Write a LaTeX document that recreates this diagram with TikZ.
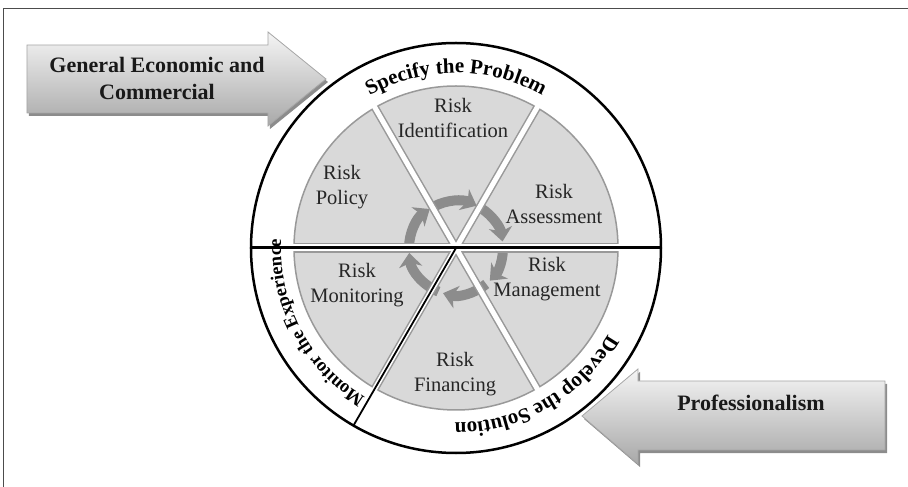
\documentclass[tikz,border=0pt]{standalone}
\usepackage{fontspec}
\setmainfont{Liberation Serif}
\usetikzlibrary{arrows.meta,decorations.text,calc}

\newcommand\slicefont{\fontsize{20.5}{25}\selectfont}
\newcommand\ringfont{\bfseries\fontsize{21}{25}\selectfont}
\newcommand\monfont{\bfseries\fontsize{18.5}{23}\selectfont}
\newcommand\sidefont{\bfseries\fontsize{22}{27}\selectfont}

\begin{document}
\begin{tikzpicture}[
     x=1pt,y=1pt,
     align=center,
     slice/.style={text=black!85,font=\slicefont},
     side/.style={text=black!90,font=\sidefont},
     ringtext/.style={decorate,decoration={text along path,text align=center,text={#1}}},
     bigarrow/.style={draw=black!35,line width=0.8pt,top color=black!4,bottom color=black!34},
     arrowshadow/.style={fill=black!45,draw=none},
     cycle/.style={draw=black!45,line width=10pt,-{Stealth[length=14pt,width=23pt,inset=4pt]}}]

    \useasboundingbox (-456,-239) rectangle (452,248);
    \draw[black!70,line width=0.8pt] (-453,-239) -- (-453,240) -- (452,240);

    % the six slices
    \filldraw[fill=black!15,draw=black!40,line width=1.5pt] (0,0) circle[radius=162pt];

    \foreach \s/\e in {180/124,118/64,58/8,2/-44,-50/-106,-112/-174}
      \draw[cycle] (\s:47) arc[start angle=\s,end angle=\e,radius=47pt];

    \foreach \a in {60,120}
      \draw[black!40,line width=8pt] (\a:162) -- (\a+180:162);
    \draw[black!40,line width=10pt] (0:162) -- (180:162);
    \foreach \a in {60,120}
      \draw[white,line width=5pt] (\a:164) -- (\a+180:164);
    \draw[white,line width=7pt] (0:164) -- (180:164);

    \draw[line width=3pt] (180:205) -- (0:205);
    \draw[line width=1.8pt] (0,0) -- (240:205);
    \draw[line width=2.5pt] (0,0) circle[radius=205pt];

    \node[slice] (ident) at (-3,130) {Risk\\Identification};
    \node[slice] (policy) at (-114,61) {Risk\\Policy};
    \node[slice] (assess) at (98,44) {Risk\\Assessment};
    \node[slice] (manage) at (91,-31) {Risk\\Management};
    \node[slice] (monitor) at (-99,-37) {Risk\\Monitoring};
    \node[slice] (finance) at (-1,-126) {Risk\\Financing};

    % ring titles
    \path[ringtext={|\ringfont|Specify the Problem}]
      (150:175) arc[start angle=150,end angle=30,radius=175pt];
    \path[ringtext={|\ringfont|Develop the Solution}]
      (0:175) arc[start angle=0,end angle=-120,radius=175pt];
    \path[ringtext={|\monfont|Monitor the Experience}]
      (-102:175) arc[start angle=-102,end angle=-202,radius=175pt];

    % outside influences
    \fill[arrowshadow,shift={(2,-3)}] (-429,203) -- (-188,203) -- (-188,216) -- (-130,169)
      -- (-188,122) -- (-188,135) -- (-429,135) -- cycle;
    \path[bigarrow] (-429,203) -- (-188,203) -- (-188,216) -- (-130,169)
      -- (-188,122) -- (-188,135) -- (-429,135) -- cycle;
    \node[side] (econ) at (-299,170) {General Economic and\\Commercial};

    \fill[arrowshadow,shift={(2,-3)}] (429,-133) -- (182,-133) -- (182,-121) -- (126,-168)
      -- (182,-216) -- (182,-202) -- (429,-202) -- cycle;
    \path[bigarrow] (429,-133) -- (182,-133) -- (182,-121) -- (126,-168)
      -- (182,-216) -- (182,-202) -- (429,-202) -- cycle;
    \node[side] (prof) at (295,-155) {Professionalism};

\end{tikzpicture}
\end{document}
